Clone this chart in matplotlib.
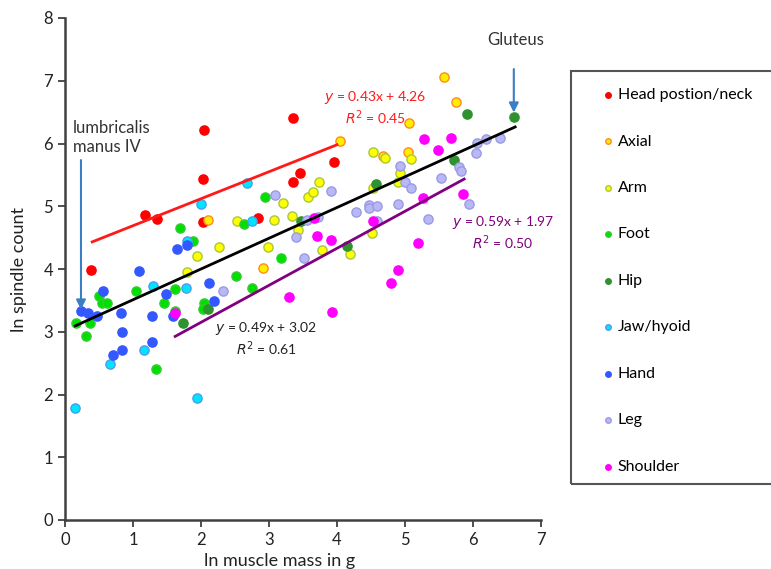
import matplotlib.pyplot as plt
from matplotlib.patches import Rectangle

plt.rcParams['font.family'] = ['Lato', 'DejaVu Sans']

# ln muscle mass (x) and ln spindle count (y) per muscle group
head_x = [2.04, 3.35, 2.03, 1.18, 1.35, 2.03, 2.84, 0.38, 3.46, 3.35, 3.96]
head_y = [6.22, 6.41, 5.43, 4.86, 4.80, 4.75, 4.81, 3.98, 5.53, 5.39, 5.71]

axial_x = [4.04, 5.57, 5.75, 5.06, 5.04, 4.68, 2.91, 2.10]
axial_y = [6.04, 7.06, 6.66, 6.33, 5.86, 5.80, 4.02, 4.78]

arm_x = [1.79, 1.94, 2.26, 2.53, 2.99, 3.07, 3.21, 3.34, 3.43, 3.57, 3.65,
         3.74, 3.78, 4.19, 4.51, 4.53, 4.53, 4.71, 4.90, 4.93, 5.09]
arm_y = [3.95, 4.21, 4.35, 4.77, 4.35, 4.78, 5.05, 4.84, 4.62, 5.15, 5.23,
         5.39, 4.30, 4.24, 4.57, 5.29, 5.86, 5.77, 5.39, 5.53, 5.75]

foot_x = [0.16, 0.31, 0.37, 0.50, 0.54, 0.62, 1.04, 1.34, 1.46, 1.62, 1.62,
          1.69, 1.88, 2.04, 2.03, 2.51, 2.63, 2.75, 2.94, 3.18]
foot_y = [3.14, 2.93, 3.14, 3.57, 3.46, 3.46, 3.65, 2.41, 3.46, 3.68, 3.33,
          4.65, 4.45, 3.46, 3.36, 3.89, 4.72, 3.70, 5.15, 4.18]

hip_x = [1.74, 2.10, 3.47, 4.15, 4.57, 5.72, 5.91, 6.60]
hip_y = [3.14, 3.36, 4.76, 4.37, 5.35, 5.74, 6.47, 6.42]

jaw_x = [0.15, 0.66, 1.16, 1.29, 1.78, 1.79, 1.94, 2.00, 2.68, 2.75]
jaw_y = [1.78, 2.49, 2.71, 3.73, 3.70, 4.45, 1.94, 5.04, 5.37, 4.76]

hand_x = [0.24, 0.34, 0.47, 0.56, 0.71, 0.82, 0.84, 0.84, 1.09, 1.28, 1.28,
          1.49, 1.59, 1.65, 1.79, 2.12, 2.19]
hand_y = [3.33, 3.30, 3.25, 3.65, 2.63, 3.30, 3.00, 2.71, 3.97, 3.25, 2.84,
          3.60, 3.25, 4.32, 4.38, 3.78, 3.49]

leg_x = [2.32, 3.09, 3.40, 3.51, 3.56, 3.72, 3.91, 4.28, 4.47, 4.47, 4.59,
         4.59, 4.90, 4.93, 5.00, 5.09, 5.34, 5.53, 5.79, 5.82, 5.94, 6.04,
         6.06, 6.19, 6.40]
leg_y = [3.65, 5.18, 4.51, 4.18, 4.78, 4.83, 5.24, 4.91, 5.02, 4.97, 5.00,
         4.76, 5.04, 5.64, 5.39, 5.29, 4.80, 5.45, 5.63, 5.56, 5.04, 5.85,
         6.01, 6.07, 6.09]

shoulder_x = [1.62, 3.29, 3.66, 3.71, 3.91, 3.93, 4.53, 4.79, 4.90, 5.19,
              5.26, 5.28, 5.49, 5.68, 5.85]
shoulder_y = [3.30, 3.55, 4.81, 4.53, 4.46, 3.31, 4.77, 3.78, 3.98, 4.41,
              5.13, 6.07, 5.90, 6.09, 5.20]

# trend lines: slope, intercept, x range
fit_all = (0.49, 3.02, 0.15, 6.62)
fit_head = (0.43, 4.26, 0.40, 4.00)
fit_shoulder = (0.59, 1.97, 1.62, 5.87)

groups = [
    ('Head postion/neck', head_x, head_y, '#ff0000', '#ff0000'),
    ('Axial', axial_x, axial_y, '#ffee00', '#ff8c1a'),
    ('Arm', arm_x, arm_y, '#ffff00', '#a8c83c'),
    ('Foot', foot_x, foot_y, '#00e000', '#33cc33'),
    ('Hip', hip_x, hip_y, '#2e922e', '#2e922e'),
    ('Jaw/hyoid', jaw_x, jaw_y, '#00e5ff', '#4a9cf0'),
    ('Hand', hand_x, hand_y, '#3358ff', '#3358ff'),
    ('Leg', leg_x, leg_y, '#b8b8f4', '#9a9ae6'),
    ('Shoulder', shoulder_x, shoulder_y, '#ff00ff', '#ff00ff'),
]

fig = plt.figure(figsize=(7.71, 5.69), dpi=100)
ax = fig.add_axes([65 / 771, 1 - 520 / 569, 476 / 771, 502 / 569])

handles = []
for name, xs, ys, fc, ec in groups:
    h = ax.scatter(xs, ys, s=44, c=fc, edgecolors=ec, linewidths=1.0,
                   label=name, zorder=3)
    handles.append(h)

for (m, b, x0, x1), col in [(fit_all, 'black'), (fit_head, '#ff1a1a'),
                            (fit_shoulder, '#800080')]:
    ax.plot([x0, x1], [m * x0 + b, m * x1 + b], color=col, lw=2, zorder=4)

# regression equations
ax.text(4.56, 6.57, '$y$ = 0.43x + 4.26\n$R^2$ = 0.45', color='#ff1a1a',
        fontsize=10, ha='center', va='center', linespacing=1.15)
ax.text(2.96, 2.89, '$y$ = 0.49x + 3.02\n$R^2$ = 0.61', color='#222222',
        fontsize=10, ha='center', va='center', linespacing=1.15)
ax.text(6.44, 4.57, '$y$ = 0.59x + 1.97\n$R^2$ = 0.50', color='#800080',
        fontsize=10, ha='center', va='center', linespacing=1.15)

# labelled muscles
ax.text(0.12, 6.1, 'lumbricalis\nmanus IV', fontsize=12, color='#333333',
        ha='left', va='center', linespacing=1.25)
ax.annotate('', xy=(0.235, 3.31), xytext=(0.235, 5.78),
            arrowprops=dict(arrowstyle='-|>', color='#3a7ec4', lw=1.5,
                            mutation_scale=14))
ax.text(6.63, 7.65, 'Gluteus', fontsize=12, color='#333333',
        ha='center', va='center')
ax.annotate('', xy=(6.60, 6.45), xytext=(6.60, 7.23),
            arrowprops=dict(arrowstyle='-|>', color='#3a7ec4', lw=1.5,
                            mutation_scale=14))

ax.set_xlim(0, 7)
ax.set_ylim(0, 8)
ax.set_xticks(range(8))
ax.set_yticks(range(9))
ax.tick_params(labelsize=12, length=5, width=1.3, color='#404040',
               labelcolor='#222222')
for side in ['top', 'right']:
    ax.spines[side].set_visible(False)
for side in ['left', 'bottom']:
    ax.spines[side].set_linewidth(1.8)
    ax.spines[side].set_color('#404040')

ax.set_ylabel('ln spindle count', fontsize=13, color='#222222')
ax.set_xlabel('ln muscle mass in g', fontsize=13, color='#222222')
ax.yaxis.set_label_coords(-0.08, 0.5)
ax.xaxis.set_label_coords(0.45, -0.065)

# legend in a separate box to the right
fig.patches.append(Rectangle((571 / 771, 1 - 484 / 569), 205 / 771, 413 / 569,
                             transform=fig.transFigure, fill=False,
                             edgecolor='#555555', lw=1.5))
fig.legend(handles=handles, loc='upper left',
           bbox_to_anchor=(592 / 771, 1 - 80 / 569), frameon=False,
           fontsize=11.5, labelspacing=2.02, handletextpad=0.1,
           markerscale=0.6, handlelength=1.0, borderpad=0)

fig.savefig('out.png', dpi=100)
